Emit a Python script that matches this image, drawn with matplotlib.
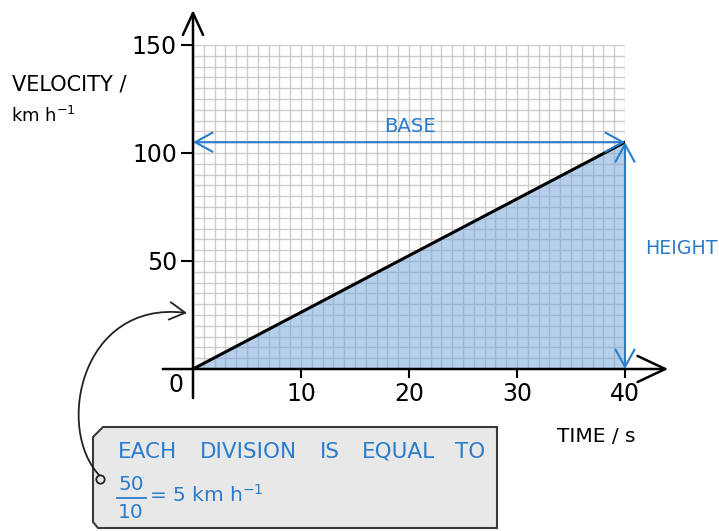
import matplotlib
matplotlib.use('Agg')
import matplotlib.pyplot as plt
from matplotlib.patches import FancyArrowPatch, Polygon
from matplotlib.lines import Line2D
from matplotlib.path import Path
from matplotlib.ticker import MultipleLocator

# ---- data ----
time_s = [0, 40]
velocity_kmh = [0, 105]
x_ticks = [10, 20, 30, 40]
x_tick_labels = ['10', '20', '30', '40']
y_ticks = [50, 100, 150]
y_tick_labels = ['50', '100', '150']
x_minor_step = 1
y_minor_step = 5

plt.rcParams['font.family'] = ['DejaVu Sans']
BLUE = '#2a7ccc'

W, H = 719, 531
fig = plt.figure(figsize=(W / 100, H / 100), dpi=100)
fig.patch.set_facecolor('white')


def F(px, py):
    return (px / W, 1 - py / H)


ax = fig.add_axes([193 / W, 1 - 369 / H, 432 / W, 324 / H])
ax.set_xlim(0, 40)
ax.set_ylim(0, 150)
for s in ax.spines.values():
    s.set_visible(False)
ax.xaxis.set_minor_locator(MultipleLocator(x_minor_step))
ax.yaxis.set_minor_locator(MultipleLocator(y_minor_step))
ax.set_xticks(x_ticks, x_tick_labels)
ax.set_yticks(y_ticks, y_tick_labels)
ax.set_axisbelow(True)
ax.grid(which='both', color='#cccccc', lw=1.0)
ax.tick_params(which='minor', length=0)
ax.tick_params(axis='x', which='major', length=6.5, width=1.5, pad=3, labelsize=17)
ax.tick_params(axis='y', which='major', length=8.6, width=1.5, pad=3, labelsize=17)

# area under graph
ax.fill_between(time_s, velocity_kmh, 0, color='#6fa3d8', alpha=0.5, lw=0, zorder=2)
ax.plot(time_s, velocity_kmh, color='black', lw=2.2, zorder=4, solid_capstyle='round')

# axis lines with open arrow heads
ax.annotate('', xy=(0, 166.2), xytext=(0, -13.4),
            arrowprops=dict(arrowstyle='->,head_length=1.0,head_width=0.46',
                            mutation_scale=15.8, lw=1.8, color='black',
                            shrinkA=0, shrinkB=0),
            annotation_clip=False)
ax.annotate('', xy=(44, 0), xytext=(-2.8, 0),
            arrowprops=dict(arrowstyle='->,head_length=1.0,head_width=0.47',
                            mutation_scale=20, lw=1.8, color='black',
                            shrinkA=0, shrinkB=0),
            annotation_clip=False)

# base and height arrows
ax.annotate('', xy=(40, velocity_kmh[-1]), xytext=(0, velocity_kmh[-1]),
            arrowprops=dict(arrowstyle='<->,head_length=1.0,head_width=0.55',
                            mutation_scale=12.5, lw=1.5, color=BLUE,
                            shrinkA=0, shrinkB=0),
            annotation_clip=False, zorder=5)
ax.annotate('', xy=(40, 0), xytext=(40, velocity_kmh[-1]),
            arrowprops=dict(arrowstyle='<->,head_length=1.0,head_width=0.55',
                            mutation_scale=12.5, lw=1.5, color=BLUE,
                            shrinkA=0, shrinkB=0),
            annotation_clip=False, zorder=5)
ax.text(20.1, 112.5, 'BASE', color=BLUE, ha='center', va='center', fontsize=14.2)
ax.text(45.2, 56, 'HEIGHT', color=BLUE, ha='center', va='center', fontsize=13.7)

# figure texts
fig.text(*F(176, 385), '0', ha='center', va='center', fontsize=17)
fig.text(*F(12, 84), 'VELOCITY /', ha='left', va='center', fontsize=15)
fig.text(*F(11, 116), r'km h$^{-1}$', ha='left', va='center', fontsize=13)
fig.text(*F(596, 437), 'TIME / s', ha='center', va='center', fontsize=14.5)

# note box
box_pts = [F(93, 437), F(103, 427), F(497, 427), F(497, 528), F(98, 528), F(93, 522)]
fig.patches.append(Polygon(box_pts, closed=True, transform=fig.transFigure,
                           facecolor='#e8e8e8', edgecolor='#3a3a3a', lw=1.5))
for word, px in [('EACH', 118), ('DIVISION', 200), ('IS', 320), ('EQUAL', 362), ('TO', 455)]:
    fig.text(*F(px, 452), word, color=BLUE, ha='left', va='center', fontsize=15.5)
fig.text(*F(131, 485), '50', color=BLUE, ha='center', va='center', fontsize=14.5)
fig.text(*F(131, 513), '10', color=BLUE, ha='center', va='center', fontsize=14.5)
fig.lines.append(Line2D([117 / W, 146 / W], [1 - 498 / H, 1 - 498 / H],
                        transform=fig.transFigure, color=BLUE, lw=1.3))
fig.text(*F(149, 495), r'= 5 km h$^{-1}$', color=BLUE, ha='left', va='center', fontsize=14.5)

# curved pointer
curve = Path([F(100, 476), F(55, 430), F(80, 300), F(187, 313)],
             [Path.MOVETO, Path.CURVE4, Path.CURVE4, Path.CURVE4])
fig.patches.append(FancyArrowPatch(path=curve, transform=fig.transFigure,
                                   arrowstyle='->,head_length=0.8,head_width=0.45',
                                   mutation_scale=14, color='#222222', lw=1.3))
fig.lines.append(Line2D([100 / W], [1 - 479 / H], transform=fig.transFigure,
                        marker='o', ms=6, mfc='#e8e8e8', mec='#222222', mew=1.3))

fig.savefig('out.png', dpi=100)
